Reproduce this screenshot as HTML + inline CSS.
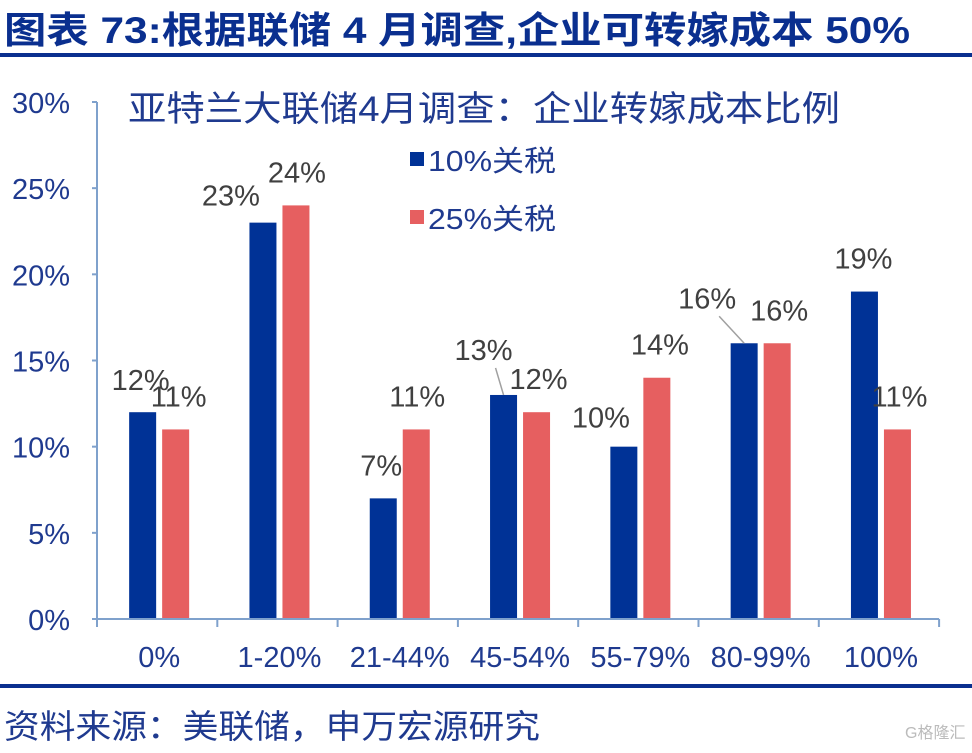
<!DOCTYPE html>
<html><head><meta charset="utf-8"><style>
body{margin:0;width:972px;height:748px;background:#fff;overflow:hidden;font-family:"Liberation Sans","Noto Sans CJK SC",sans-serif}
</style></head><body>
<svg width="972" height="748" xmlns="http://www.w3.org/2000/svg">
<text x="4" y="43" font-size="37" font-weight="bold" fill="#0a2f8f" textLength="906" lengthAdjust="spacingAndGlyphs" font-family="Liberation Sans,Noto Sans CJK SC,sans-serif">图表 73:根据联储 4 月调查,企业可转嫁成本 50%</text>
<rect x="0" y="53" width="972" height="4" fill="#0a2f8f"/>
<text x="128" y="121" font-size="35" fill="#1f3a8f" textLength="712" lengthAdjust="spacingAndGlyphs" font-family="Liberation Sans,Noto Sans CJK SC,sans-serif">亚特兰大联储4月调查：企业转嫁成本比例</text>
<rect x="410" y="152" width="14" height="14" fill="#003296"/>
<text x="428" y="171" font-size="29" fill="#1f3a8f" textLength="128" lengthAdjust="spacingAndGlyphs">10%关税</text>
<rect x="410" y="210" width="14" height="14" fill="#e65f60"/>
<text x="428" y="229" font-size="29" fill="#1f3a8f" textLength="128" lengthAdjust="spacingAndGlyphs">25%关税</text>
<g id="plot"></g>
<rect x="0" y="684" width="972" height="4" fill="#0a2f8f"/>
<text x="4" y="738" font-size="33" fill="#1f3a8f" textLength="536" lengthAdjust="spacingAndGlyphs" font-family="Liberation Sans,Noto Sans CJK SC,sans-serif">资料来源：美联储，申万宏源研究</text>
<text x="905" y="738" font-size="16" fill="#bbb" font-family="Liberation Sans,Noto Sans CJK SC,sans-serif">G格隆汇</text>
</svg>
<script>
const categories=["0%","1-20%","21-44%","45-54%","55-79%","80-99%","100%"];
const tariff10=[12,23,7,13,10,16,19];
const tariff25=[11,24,11,12,14,16,11];
const yTicks=[0,5,10,15,20,25,30];
const NS="http://www.w3.org/2000/svg";
const g=document.getElementById('plot');
const x0=97,step=120.3,y0=619,yTop=102,yMax=30;
const y=v=>y0-(y0-yTop)*v/yMax;
const cx=i=>x0+step*(i+0.5);
function mk(t,a){const e=document.createElementNS(NS,t);for(const k in a)e.setAttribute(k,a[k]);g.appendChild(e);return e;}
const off10=[[-2,-22],[-32,-17],[-2,-23],[-20,-35],[-23,-19],[-37,-35],[-1,-23]];
const off25=[[3,-23],[1,-23],[1,-23],[2,-23],[3,-23],[2,-23],[2,-23]];
yTicks.forEach(v=>{
  const t=mk('text',{x:70,y:y(v)+11,'font-size':29,fill:'#1f3a8f','text-anchor':'end'});t.textContent=v+'%';
  
  
  const k=mk('line',{x1:x0-5,x2:x0,y1:y(v),y2:y(v),stroke:'#7fa1cc','stroke-width':2});
  
  
});
const ya=mk('line',{x1:x0,x2:x0,y1:yTop,y2:y0,stroke:'#7fa1cc','stroke-width':2});


categories.forEach((c,i)=>{
  const c0=cx(i);
  const b=mk('rect',{x:c0-28,y:y(tariff10[i]),width:27,height:y0-y(tariff10[i]),fill:'#003296'});
  
  
  const r=mk('rect',{x:c0+5,y:y(tariff25[i]),width:27,height:y0-y(tariff25[i]),fill:'#e65f60'});
  
  
  const bx=c0-14.5,rx=c0+18.5;
  const l1=mk('text',{x:bx+off10[i][0],y:y(tariff10[i])+off10[i][1],'font-size':29,fill:'#404040','text-anchor':'middle'});l1.textContent=tariff10[i]+'%';
  
  
  if(off10[i][1]<-30){
    const ln=mk('line',{x1:bx+off10[i][0]+12,y1:y(tariff10[i])-27,x2:bx,y2:y(tariff10[i]),stroke:'#a0a0a0','stroke-width':1.5});
    
    
  }
  const l2=mk('text',{x:rx+off25[i][0],y:y(tariff25[i])+off25[i][1],'font-size':29,fill:'#404040','text-anchor':'middle'});l2.textContent=tariff25[i]+'%';
  
  
  const t=mk('text',{x:c0+2,y:667,'font-size':29,fill:'#1f3a8f','text-anchor':'middle'});t.textContent=c;
  
  
});
for(let i=0;i<=categories.length;i++){
  const k=mk('line',{x1:x0+step*i,x2:x0+step*i,y1:y0,y2:y0+8,stroke:'#7fa1cc','stroke-width':2});
  
  
}
const xa=mk('line',{x1:x0,x2:x0+step*categories.length,y1:y0,y2:y0,stroke:'#7fa1cc','stroke-width':2});


</script>
</body></html>
